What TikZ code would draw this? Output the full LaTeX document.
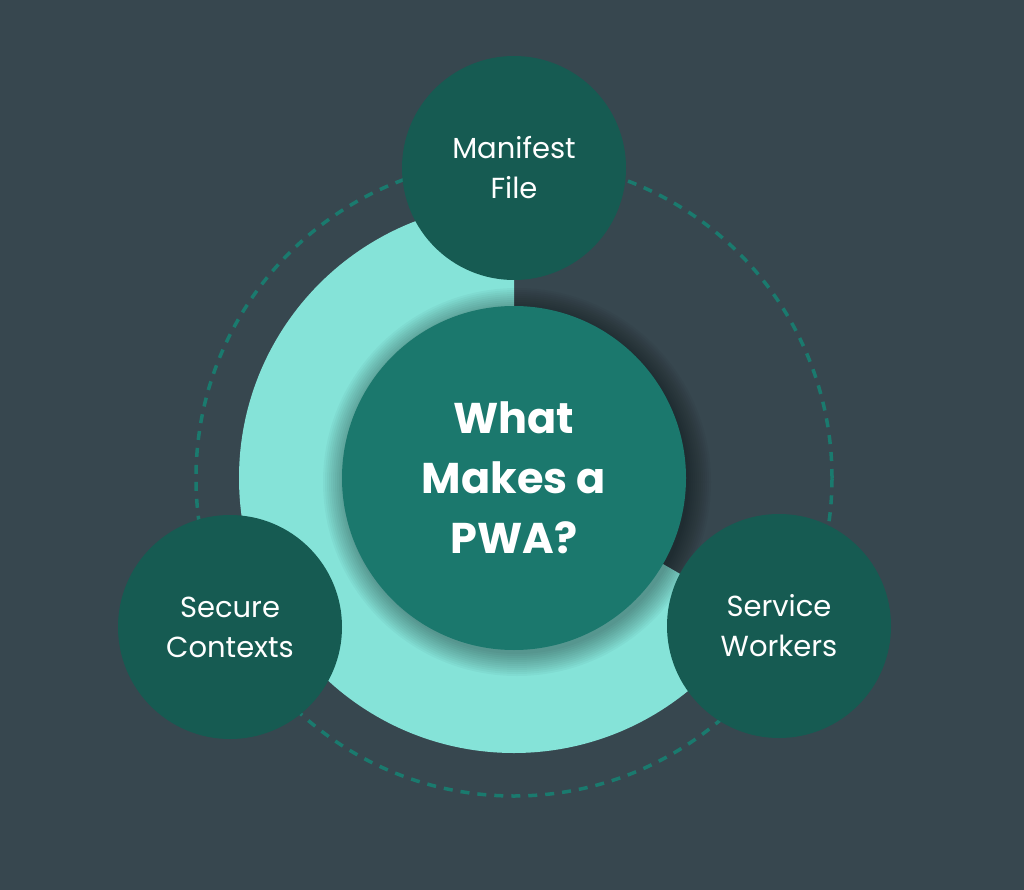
\documentclass[tikz,border=0pt]{standalone}
\usepackage{fontspec}
\setmainfont{Poppins}
\definecolor{slate}{HTML}{37474F}
\definecolor{mint}{HTML}{85E3D8}
\definecolor{tealmid}{HTML}{1B786D}
\definecolor{tealdark}{HTML}{165B52}
\definecolor{tealdash}{HTML}{1A7A6E}
\begin{document}
\begin{tikzpicture}[x=1pt, y=1pt,
	part/.style={circle, fill=tealdark, minimum size=224pt, inner sep=0pt, align=center, text=white, font=\fontsize{29}{40}\selectfont},
	hub/.style={circle, fill=tealmid, minimum size=344pt, inner sep=0pt, align=center, text=white, font=\fontsize{43}{60}\selectfont\bfseries}]
	% Nền
	\fill[slate] (0,0) rectangle (1024,-890);
	\useasboundingbox (0,0) rectangle (1024,-890);
	
	% Vòng nét đứt bao quanh
	\draw[tealdash, line width=3.5pt, dash pattern=on 9pt off 8pt] (514,-478) circle (318);
	
	% Hình quạt màu sáng (từ 90 đến 330 độ)
	\fill[mint] (514,-478) -- ++(90:275) arc[start angle=90, end angle=330, radius=275] -- cycle;
	
	% Bóng mờ của vòng tròn giữa
	\foreach \r in {0,2,...,22} {
		\fill[black, opacity=0.03] (517,-482) circle (172+\r);
	}
	
	% Vòng tròn trung tâm
	\node[hub] (pwa) at (514,-478) {What\\Makes a\\PWA?};
	
	% Ba thành phần
	\node[part] (manifest) at (514,-168) {Manifest\\File};
	\node[part] (secure) at (230,-627) {Secure\\Contexts};
	\node[part] (service) at (779,-626) {Service\\Workers};
\end{tikzpicture}
\end{document}
